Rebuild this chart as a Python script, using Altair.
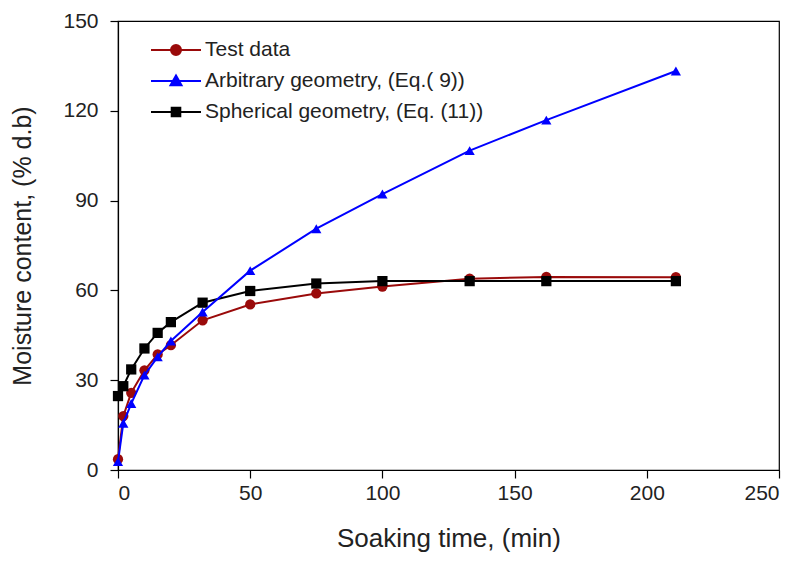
import altair as alt
import pandas as pd

# Soaking time (min)
time = [0, 2, 5, 10, 15, 20, 32, 50, 75, 100, 133, 162, 211]
test_data = [3.6, 18.0, 25.8, 33.3, 38.6, 41.7, 50.0, 55.3, 59.0, 61.3, 63.9, 64.5, 64.4]
arbitrary = [2.8, 15.6, 22.2, 31.7, 37.8, 43.1, 52.8, 66.6, 80.6, 92.2, 106.7, 116.9, 133.3]
spherical = [24.7, 28.0, 33.6, 40.6, 45.8, 49.4, 55.9, 59.8, 62.3, 63.1, 63.1, 63.1, 63.1]

series = ["Test data", "Arbitrary geometry, (Eq.( 9))", "Spherical geometry, (Eq. (11))"]
colors = ["#9A0A0A", "#0000FF", "#000000"]
shapes = ["circle", "triangle-up", "square"]
# legend symbols: a line through the marker (unit coords, scaled by sqrt(size)/2)
legend_paths = [
    "M-2.5,0H2.5M-0.5,0A0.5,0.5 0 1,0 0.5,0A0.5,0.5 0 1,0 -0.5,0Z",
    "M-2.5,0H2.5M0,-0.55L0.55,0.42L-0.55,0.42Z",
    "M-2.5,0H2.5M-0.43,-0.43H0.43V0.43H-0.43Z",
]

rows = []
for name, vals in zip(series, [test_data, arbitrary, spherical]):
    for t, v in zip(time, vals):
        rows.append({"time": t, "moisture": v, "series": name})
df = pd.DataFrame(rows)

FONT = "Liberation Sans"

x = alt.X("time:Q", title="Soaking time, (min)",
          scale=alt.Scale(domain=[0, 250], nice=False),
          axis=alt.Axis(values=[0, 50, 100, 150, 200, 250]))
y = alt.Y("moisture:Q", title="Moisture content, (% d.b)",
          scale=alt.Scale(domain=[0, 150], nice=False),
          axis=alt.Axis(values=[0, 30, 60, 90, 120, 150]))

cscale = alt.Scale(domain=series, range=colors)

layers = []
for name in ["Test data", "Spherical geometry, (Eq. (11))", "Arbitrary geometry, (Eq.( 9))"]:
    sub = alt.Chart(df).transform_filter(alt.datum.series == name)
    layers.append(sub.mark_line(strokeWidth=2).encode(
        x=x, y=y, color=alt.Color("series:N", scale=cscale, legend=None)))
    layers.append(sub.mark_point(filled=True, opacity=1, size=105).encode(
        x=x, y=y,
        color=alt.Color("series:N", scale=cscale, legend=None),
        shape=alt.Shape("series:N", scale=alt.Scale(domain=series, range=shapes), legend=None)))


def leg():
    return alt.Legend(
        title=None, orient="none", legendX=47, legendY=18,
        symbolSize=400, symbolStrokeWidth=2, labelFontSize=21, labelFont=FONT,
        labelColor="#222222", labelOffset=18, rowPadding=10, padding=0,
        symbolOffset=0, labelLimit=0)


legend_layer = alt.Chart(df).transform_filter("false").mark_point(
    filled=True, opacity=1, strokeWidth=2).encode(
    x=x, y=y,
    color=alt.Color("series:N", scale=cscale, legend=leg()),
    stroke=alt.Stroke("series:N", scale=cscale, legend=leg()),
    shape=alt.Shape("series:N", scale=alt.Scale(domain=series, range=legend_paths),
                    legend=leg()),
)

chart = alt.layer(*layers, legend_layer).resolve_scale(
    color="independent", shape="independent", stroke="independent"
).properties(
    width=661, height=449,
    autosize=alt.AutoSizeParams(type="none"),
    padding={"left": 118, "top": 21, "right": 19, "bottom": 91},
    background="white",
).configure_view(
    stroke="black", strokeWidth=1.2
).configure_axis(
    grid=False, domainColor="black", domainWidth=1.2, tickColor="black", tickWidth=1.2,
    tickSize=8, labelFont=FONT, labelFontSize=21, labelColor="#222222",
    titleFont=FONT, titleFontWeight="normal", titleColor="#222222",
).configure_axisX(
    labelPadding=4, titlePadding=22, titleFontSize=26
).configure_axisY(
    labelPadding=12, titlePadding=27, titleFontSize=25
)

chart.save("out.html", embed_options={"renderer": "svg", "actions": False})
